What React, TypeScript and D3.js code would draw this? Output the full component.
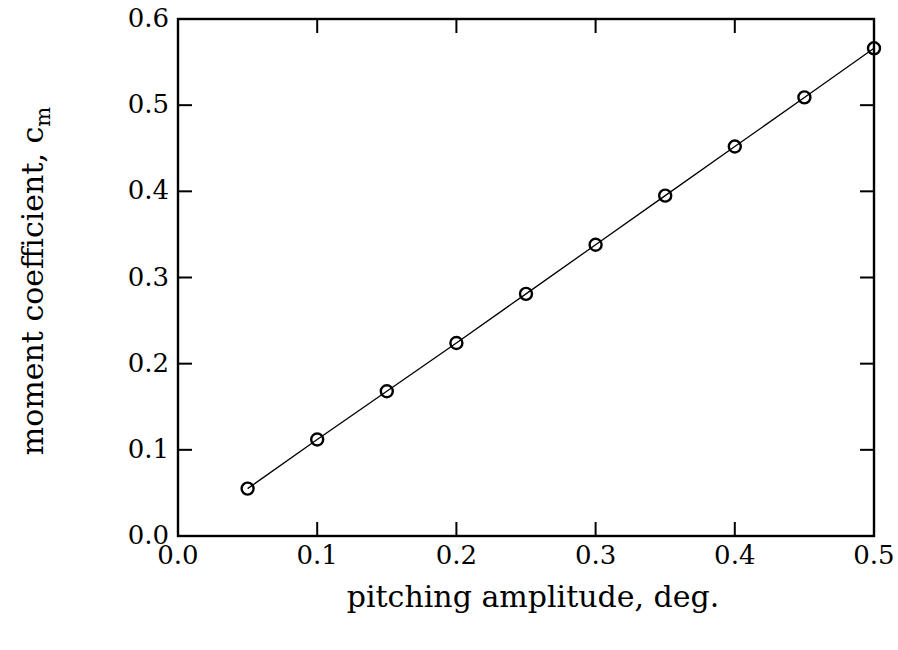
import { useMemo } from "react";
import * as d3 from "d3";

const WIDTH = 898;
const HEIGHT = 650;
const MARGIN = { top: 19, right: 24, bottom: 114, left: 178 };

const AMPLITUDE = [0.05, 0.1, 0.15, 0.2, 0.25, 0.3, 0.35, 0.4, 0.45, 0.5];
const MOMENT = [0.055, 0.112, 0.168, 0.224, 0.281, 0.338, 0.395, 0.452, 0.509, 0.566];
const X_TICKS = [0, 0.1, 0.2, 0.3, 0.4, 0.5];
const Y_TICKS = [0, 0.1, 0.2, 0.3, 0.4, 0.5, 0.6];

const FONT = "'DejaVu Serif', serif";
const TICK_LEN = 14;

export default function App() {
  const x = useMemo(
    () => d3.scaleLinear().domain([0, 0.5]).range([MARGIN.left, WIDTH - MARGIN.right]),
    []
  );
  const y = useMemo(
    () => d3.scaleLinear().domain([0, 0.6]).range([HEIGHT - MARGIN.bottom, MARGIN.top]),
    []
  );

  const points = AMPLITUDE.map((a, i) => [a, MOMENT[i]] as [number, number]);
  const line = d3
    .line<[number, number]>()
    .x((d) => x(d[0]))
    .y((d) => y(d[1]))(points);

  const x0 = x(0);
  const x1 = x(0.5);
  const y0 = y(0);
  const y1 = y(0.6);

  return (
    <svg width={WIDTH} height={HEIGHT} style={{ position: "absolute", left: 0, top: 0 }}>
      <rect width={WIDTH} height={HEIGHT} fill="#fff" />
      <path d={line ?? ""} fill="none" stroke="#000" strokeWidth={1.3} />
      {points.map((p, i) => (
        <circle key={i} cx={x(p[0])} cy={y(p[1])} r={6} fill="none" stroke="#000" strokeWidth={2.4} />
      ))}

      <rect x={x0} y={y1} width={x1 - x0} height={y0 - y1} fill="none" stroke="#000" strokeWidth={2.4} />

      {X_TICKS.slice(1, -1).map((t) => (
        <g key={`xt${t}`}>
          <line x1={x(t)} x2={x(t)} y1={y0} y2={y0 - TICK_LEN} stroke="#000" strokeWidth={2} />
          <line x1={x(t)} x2={x(t)} y1={y1} y2={y1 + TICK_LEN} stroke="#000" strokeWidth={2} />
        </g>
      ))}
      {Y_TICKS.slice(1, -1).map((t) => (
        <g key={`yt${t}`}>
          <line x1={x0} x2={x0 + TICK_LEN} y1={y(t)} y2={y(t)} stroke="#000" strokeWidth={2} />
          <line x1={x1} x2={x1 - TICK_LEN} y1={y(t)} y2={y(t)} stroke="#000" strokeWidth={2} />
        </g>
      ))}

      {X_TICKS.map((t) => (
        <text key={`xl${t}`} x={x(t)} y={y0 + 28} textAnchor="middle" fontFamily={FONT} fontSize={26}>
          {t.toFixed(1)}
        </text>
      ))}
      {Y_TICKS.map((t) => (
        <text key={`yl${t}`} x={x0 - 9} y={y(t) + 8} textAnchor="end" fontFamily={FONT} fontSize={26}>
          {t.toFixed(1)}
        </text>
      ))}

      <text x={533} y={607} textAnchor="middle" fontFamily={FONT} fontSize={30}>
        pitching amplitude, deg.
      </text>
      <text
        transform={`translate(43, 281) rotate(-90)`}
        textAnchor="middle"
        fontFamily={FONT}
        fontSize={30}
      >
        moment coefficient, c
        <tspan fontSize={21} dy={7}>m</tspan>
      </text>
    </svg>
  );
}
